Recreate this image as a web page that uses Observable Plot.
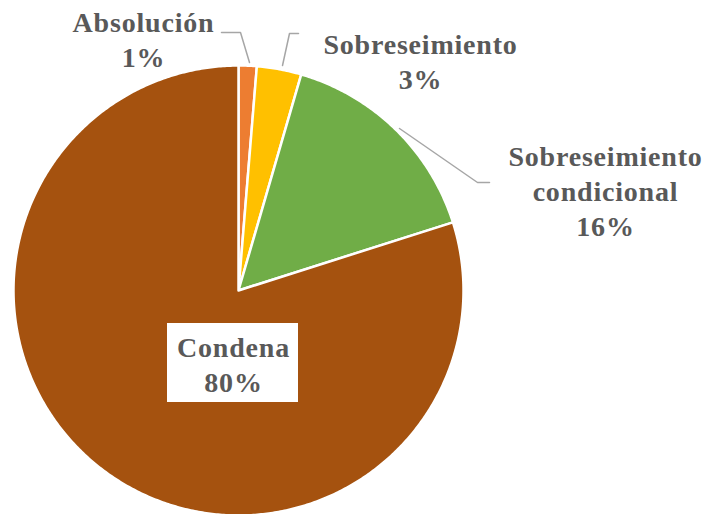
<!DOCTYPE html>
<html>
<head>
<meta charset="utf-8">
<script src="https://cdn.jsdelivr.net/npm/d3@7"></script>
<script src="https://cdn.jsdelivr.net/npm/@observablehq/plot@0.6"></script>
<style>
  html, body { margin: 0; padding: 0; background: #fff; }
</style>
</head>
<body>
<div id="chart"></div>
<script>
// ---- data ----
const categories = ["Absolución", "Sobreseimiento", "Sobreseimiento condicional", "Condena"];
const values = [1.3, 3.2, 15.6, 79.9];
const labels = ["Absolución\n1%", "Sobreseimiento\n3%", "Sobreseimiento\ncondicional\n16%", "Condena\n80%"];
const colors = ["#ED7D31", "#FFC000", "#70AD47", "#A5520F"];

// ---- layout ----
const W = 707, H = 514;
const cx = 238, cy = 290, R = 225;
const labelPos = [
  {x: 143, y: 66},
  {x: 420, y: 88},
  {x: 605, y: 235},
  {x: 233, y: 391}
];
const leaders = [
  [[249, 62], [240, 32], [221, 32]],
  [[282, 65], [289, 33], [298, 33]],
  [[399, 128], [477, 182], [489, 182]]
];

const data = categories.map((c, i) => ({cat: c, value: values[i]}));
const arcs = d3.pie().sort(null).value(d => d.value).startAngle(0).endAngle(2 * Math.PI)(data);

const pts = [];
for (const a of arcs) {
  const n = Math.max(2, Math.ceil((a.endAngle - a.startAngle) / (Math.PI / 360)));
  pts.push({cat: a.data.cat, x: cx, y: cy});
  for (let k = 0; k <= n; k++) {
    const t = a.startAngle + (a.endAngle - a.startAngle) * k / n;
    pts.push({cat: a.data.cat, x: cx + R * Math.sin(t), y: cy - R * Math.cos(t)});
  }
}

const labelData = categories.map((c, i) => ({cat: c, text: labels[i], x: labelPos[i].x, y: labelPos[i].y}));
const leaderData = leaders.flatMap((L, i) => L.map(p => ({id: i, x: p[0], y: p[1]})));

const font = {fontFamily: "Liberation Serif, Times New Roman, serif", fontWeight: "bold", fontSize: 28, fill: "#595959", lineHeight: 1.24, lineAnchor: "bottom"};

const chart = Plot.plot({
  width: W,
  height: H,
  margin: 0,
  x: {domain: [0, W], range: [0, W], axis: null},
  y: {domain: [0, H], range: [0, H], axis: null},
  color: {domain: categories, range: colors},
  style: {background: "#fff", letterSpacing: "0.8px", overflow: "visible"},
  marks: [
    Plot.line(pts, {x: "x", y: "y", z: "cat", fill: "cat", stroke: "white", strokeWidth: 2.5, strokeLinejoin: "round", curve: "linear-closed"}),
    Plot.line(leaderData, {x: "x", y: "y", z: "id", stroke: "#A6A6A6", strokeWidth: 1.5}),
    Plot.rect([labelData[3]], {x1: d => d.x - 66, x2: d => d.x + 65, y1: d => d.y - 68, y2: d => d.y + 11, fill: "white"}),
    Plot.text(labelData, {x: "x", y: "y", text: "text", ...font})
  ]
});
document.getElementById("chart").appendChild(chart);
</script>
</body>
</html>
